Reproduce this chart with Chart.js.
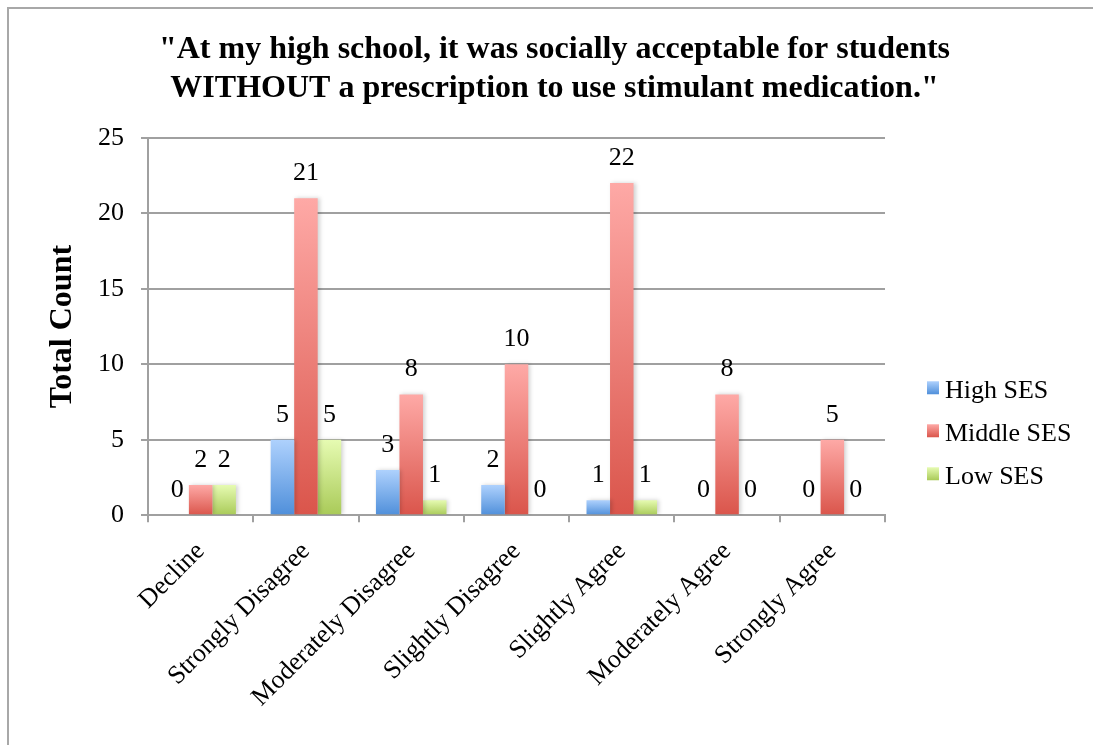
<!DOCTYPE html>
<html>
<head>
<meta charset="utf-8">
<script src="https://cdn.jsdelivr.net/npm/chart.js@4.4.1/dist/chart.umd.min.js"></script>
<style>
  html, body { margin: 0; padding: 0; background: #fff; }
  #wrap { position: relative; width: 1093px; height: 745px; }
</style>
</head>
<body>
<div id="wrap"><canvas id="ses-chart"></canvas></div>
<script>
const categories = ['Decline', 'Strongly Disagree', 'Moderately Disagree', 'Slightly Disagree', 'Slightly Agree', 'Moderately Agree', 'Strongly Agree'];
const highSES = [0, 5, 3, 2, 1, 0, 0];
const middleSES = [2, 21, 8, 10, 22, 8, 5];
const lowSES = [2, 5, 1, 0, 1, 0, 0];
const yTicks = [0, 5, 10, 15, 20, 25];

const FONT = "'Liberation Serif', 'Times New Roman', serif";

// light at the top of each bar, darker at the base
const shades = {
  high: ['#aed1fd', '#4f8fda'],
  middle: ['#fea9a6', '#da554b'],
  low: ['#e6fbb2', '#a9ca58'],
};

const vGradient = (c, top, bottom, pair) => {
  const g = c.createLinearGradient(0, top, 0, bottom);
  g.addColorStop(0, pair[0]);
  g.addColorStop(1, pair[1]);
  return g;
};

const barFill = (pair) => (ctx) => {
  const chart = ctx.chart;
  if (!chart.chartArea || ctx.type !== 'data') return pair[1];
  const y = chart.scales.y;
  const top = y.getPixelForValue(ctx.raw);
  const bottom = y.getPixelForValue(0);
  if (bottom - top < 1) return pair[1];
  return vGradient(chart.ctx, top, bottom, pair);
};

// soft drop shadow behind the bars
const barShadow = {
  id: 'barShadow',
  beforeDatasetsDraw(chart) {
    const ctx = chart.ctx;
    ctx.save();
    ctx.shadowColor = 'rgba(0, 0, 0, 0.18)';
    ctx.shadowBlur = 4;
    ctx.shadowOffsetX = 2;
    ctx.shadowOffsetY = 0;
  },
  afterDatasetsDraw(chart) {
    chart.ctx.restore();
  }
};

// number over every bar, zeros included
const valueLabels = {
  id: 'valueLabels',
  afterDatasetsDraw(chart) {
    const ctx = chart.ctx;
    ctx.save();
    ctx.font = '26px ' + FONT;
    ctx.fillStyle = '#000';
    ctx.textAlign = 'center';
    ctx.textBaseline = 'middle';
    chart.data.datasets.forEach((ds, i) => {
      chart.getDatasetMeta(i).data.forEach((bar, j) => {
        ctx.fillText(String(ds.data[j]), bar.x, bar.y - 25);
      });
    });
    ctx.restore();
  }
};

// legend in the reserved strip right of the plot, gradient swatches
const sideLegend = {
  id: 'sideLegend',
  afterDraw(chart) {
    const ctx = chart.ctx;
    const area = chart.chartArea;
    const x = area.right + 42;
    const pairs = [shades.high, shades.middle, shades.low];
    ctx.save();
    ctx.font = '26px ' + FONT;
    ctx.textAlign = 'left';
    ctx.textBaseline = 'middle';
    chart.data.datasets.forEach((ds, i) => {
      const cy = area.bottom - 125 + i * 43;
      ctx.fillStyle = vGradient(ctx, cy - 9, cy + 4, pairs[i]);
      ctx.fillRect(x, cy - 9, 12, 13);
      ctx.fillStyle = '#000';
      ctx.fillText(ds.label, x + 18, cy + 1);
    });
    ctx.restore();
  }
};

const frame = {
  id: 'frame',
  beforeDraw(chart) {
    const ctx = chart.ctx;
    ctx.save();
    ctx.strokeStyle = '#a8a8a8';
    ctx.lineWidth = 2;
    ctx.beginPath();
    ctx.moveTo(8, chart.height);
    ctx.lineTo(8, 8);
    ctx.lineTo(chart.width, 8);
    ctx.stroke();
    ctx.restore();
  }
};

const ctx = document.getElementById('ses-chart').getContext('2d');

new Chart(ctx, {
  type: 'bar',
  data: {
    labels: categories,
    datasets: [
      { label: 'High SES', data: highSES, backgroundColor: barFill(shades.high) },
      { label: 'Middle SES', data: middleSES, backgroundColor: barFill(shades.middle) },
      { label: 'Low SES', data: lowSES, backgroundColor: barFill(shades.low) },
    ],
  },
  options: {
    responsive: true,
    maintainAspectRatio: false,
    animation: false,
    categoryPercentage: 0.67,
    barPercentage: 1,
    layout: { padding: { left: 16, right: 0, top: 0, bottom: 18 } },
    scales: {
      x: {
        grid: { drawOnChartArea: false, drawTicks: true, tickLength: 7, color: '#a0a0a0', lineWidth: 2 },
        border: { color: '#a0a0a0', width: 2 },
        ticks: {
          font: { family: FONT, size: 26 },
          color: '#000',
          minRotation: 45,
          maxRotation: 45,
          autoSkip: false,
          padding: 14,
        },
        afterFit: (axis) => { axis.paddingLeft = 0; axis.paddingRight = 0; },
      },
      y: {
        min: 0,
        max: 25,
        afterBuildTicks: (axis) => { axis.ticks = yTicks.map(v => ({ value: v })); },
        afterFit: (axis) => { axis.width = 132; },
        grid: { color: '#a0a0a0', lineWidth: 2, tickLength: 7 },
        border: { color: '#a0a0a0', width: 2 },
        ticks: {
          font: { family: FONT, size: 26 },
          color: '#000',
          padding: 17,
        },
        title: {
          display: true,
          text: 'Total Count',
          font: { family: FONT, size: 32, weight: 'bold' },
          color: '#000',
          padding: { top: 28, bottom: 20 },
        },
      },
      // empty strip on the right that holds the legend
      legendSpace: {
        type: 'linear',
        position: 'right',
        grid: { display: false },
        border: { display: false },
        ticks: { display: false },
        afterFit: (axis) => { axis.width = 208; },
      },
    },
    plugins: {
      title: {
        display: true,
        text: ['"At my high school, it was socially acceptable for students', 'WITHOUT a prescription to use stimulant medication."'],
        font: { family: FONT, size: 32, weight: 'bold', lineHeight: 1.2 },
        color: '#000',
        padding: { top: 31, bottom: 30 },
      },
      legend: { display: false },
      tooltip: { enabled: false },
    },
  },
  plugins: [frame, barShadow, valueLabels, sideLegend],
});
</script>
</body>
</html>
